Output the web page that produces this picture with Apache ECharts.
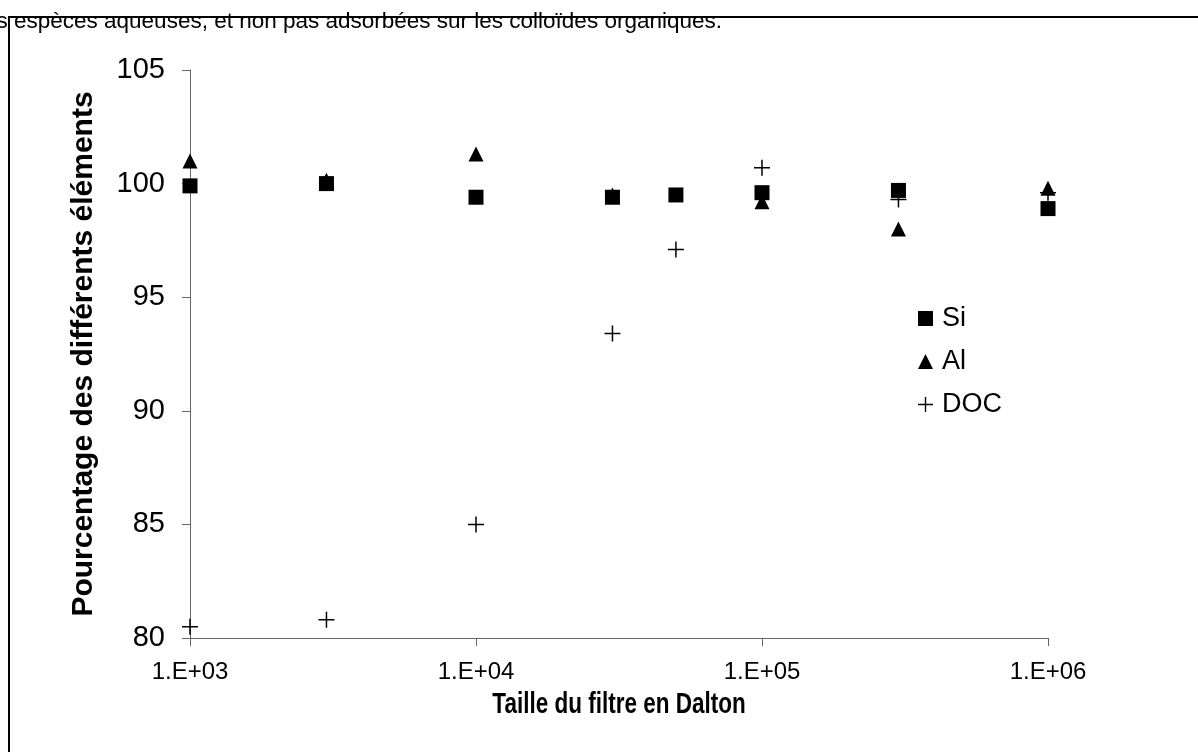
<!DOCTYPE html>
<html><head><meta charset="utf-8">
<script src="https://cdn.jsdelivr.net/npm/echarts@6/dist/echarts.min.js"></script>
<style>html,body{margin:0;padding:0;background:#fff}#c{width:1198px;height:752px}</style>
</head><body><div id="c"></div>
<script>
const topText = "es espèces aqueuses, et non pas adsorbées sur les colloïdes organiques.";
const xTitle = "Taille du filtre en Dalton";
const yTitle = "Pourcentage des différents éléments";
const seriesNames = ["Si", "Al", "DOC"];
const siData = [[1e3, 99.9], [3e3, 100.0], [1e4, 99.4], [3e4, 99.4], [5e4, 99.5], [1e5, 99.6], [3e5, 99.7], [1e6, 98.9]];
const alData = [[1e3, 101.0], [3e3, 100.15], [1e4, 101.3], [3e4, 99.5], [1e5, 99.2], [3e5, 98.0], [1e6, 99.8]];
const docData = [[1e3, 80.5], [3e3, 80.8], [1e4, 85.0], [3e4, 93.4], [5e4, 97.1], [1e5, 100.7], [3e5, 99.3], [1e6, 99.6]];
const yTicks = [80, 85, 90, 95, 100, 105];

const FONT = "Liberation Sans, Arial, sans-serif";
const PLUS = 'path://M6.8,0H8.2V6.8H15V8.2H8.2V15H6.8V8.2H0V6.8H6.8Z';
const chart = echarts.init(document.getElementById('c'), null, {renderer: 'canvas'});
chart.setOption({
  animation: false,
  backgroundColor: '#fff',
  textStyle: {fontFamily: FONT},
  graphic: [
    {type: 'rect', shape: {x: 9, y: 17, width: 1300, height: 900}, style: {fill: 'none', stroke: '#000', lineWidth: 2}, silent: true},
    {type: 'text', x: -16, y: 10, style: {text: topText, font: '22.5px ' + FONT, fill: '#000', textVerticalAlign: 'alphabetic'}, silent: true},
    {type: 'text', x: 619, y: 705, scaleY: 1.3, style: {text: xTitle, font: 'bold 22.5px ' + FONT, fill: '#000', textAlign: 'center', textVerticalAlign: 'middle'}, silent: true}
  ],
  grid: {left: 190, right: 150, top: 70, bottom: 114, containLabel: false},
  legend: {
    orient: 'vertical', left: 913, top: 300, itemWidth: 15, itemHeight: 15, itemGap: 16,
    data: [
      {name: seriesNames[0], icon: 'rect'},
      {name: seriesNames[1], icon: 'triangle'},
      {name: seriesNames[2], icon: PLUS}
    ],
    itemStyle: {opacity: 1},
    textStyle: {fontSize: 27, color: '#000', fontFamily: FONT, padding: [0, 0, 0, 4]}
  },
  xAxis: {
    type: 'log', logBase: 10, min: 1e3, max: 1e6,
    axisLine: {show: true, onZero: false, lineStyle: {color: '#666', width: 1}},
    axisTick: {show: true, inside: false, length: 8, lineStyle: {color: '#666'}},
    minorTick: {show: false},
    splitLine: {show: false},
    axisLabel: {fontSize: 24, color: '#000', margin: 22, fontFamily: FONT,
      formatter: v => '1.E+' + String(Math.round(Math.log10(v))).padStart(2, '0')}
  },
  yAxis: {
    type: 'value', min: yTicks[0], max: yTicks[yTicks.length - 1], interval: 5,
    name: yTitle, nameLocation: 'middle', nameGap: 91,
    nameTextStyle: {fontSize: 30, fontWeight: 'bold', color: '#000', fontFamily: FONT},
    axisLine: {show: true, lineStyle: {color: '#666', width: 1}},
    axisTick: {show: true, inside: false, length: 8, lineStyle: {color: '#666'}},
    splitLine: {show: false},
    axisLabel: {fontSize: 29, color: '#000', margin: 25, fontFamily: FONT}
  },
  series: [
    {name: seriesNames[0], type: 'scatter', data: siData, symbol: 'rect', symbolSize: 15, itemStyle: {color: '#000', opacity: 1}, z: 3},
    {name: seriesNames[1], type: 'scatter', data: alData, symbol: 'triangle', symbolSize: [15, 15], itemStyle: {color: '#000', opacity: 1}, z: 2},
    {name: seriesNames[2], type: 'scatter', data: docData, symbol: PLUS, symbolSize: 16, itemStyle: {color: '#000', opacity: 1}, z: 4}
  ]
});
</script></body></html>
